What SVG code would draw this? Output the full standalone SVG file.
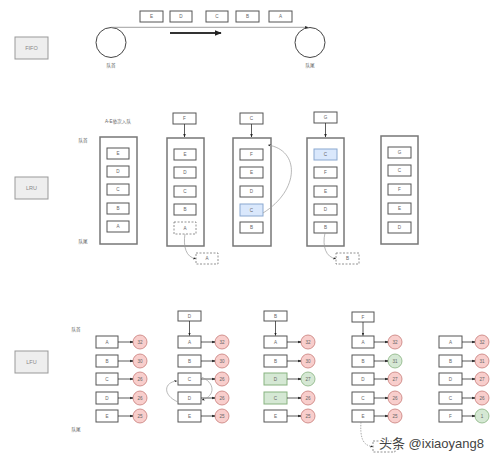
<svg xmlns="http://www.w3.org/2000/svg" width="499" height="458" viewBox="0 0 499 458">
<defs>
<marker id="ahs" viewBox="0 0 10 10" refX="9" refY="5" markerWidth="4" markerHeight="4" orient="auto"><path d="M0,1 L10,5 L0,9 Z" fill="#222"/></marker>
<style>
text{font-family:"Liberation Sans","Noto Sans CJK SC",sans-serif;font-size:4.6px;fill:#666;text-anchor:middle;dominant-baseline:central}
.lbl{fill:#eee;stroke:#999;stroke-width:1}
.lbl-t{font-size:5.5px;fill:#888}
.box{fill:#fff;stroke:#555;stroke-width:1}
.dash{fill:#fff;stroke:#777;stroke-width:0.8;stroke-dasharray:2,1.5}
.cont{fill:#fff;stroke:#777;stroke-width:1.5}
.blue{fill:#dae8fc;stroke:#8aa8d0;stroke-width:1}
.green{fill:#d5e8d4;stroke:#88b380;stroke-width:1}
.red{fill:#f8cecc;stroke:#c87c78;stroke-width:0.8}
.gc{fill:#d5e8d4;stroke:#88b380;stroke-width:0.8}
.ln{fill:none;stroke:#333;stroke-width:0.8}
.cv{fill:none;stroke:#999;stroke-width:0.7}
.cvd{fill:none;stroke:#888;stroke-width:0.7;stroke-dasharray:1.5,1.2}
.ring{fill:#fff;stroke:#444;stroke-width:1}
.wm{font-size:13px;fill:#444;text-anchor:start;stroke:#fff;stroke-width:2;paint-order:stroke}
</style>
</defs>
<rect width="499" height="458" fill="#fff"/>

<!-- FIFO -->
<g id="fifo-label"><rect class="lbl" x="15" y="37" width="33" height="22"/><text class="lbl-t" x="31.5" y="48">FIFO</text></g>
<g id="fifo-queue">
<rect class="box" x="140" y="11" width="23" height="11"/><text x="151.5" y="16.5">E</text>
<rect class="box" x="170" y="11" width="22" height="11"/><text x="181" y="16.5">D</text>
<rect class="box" x="206" y="11" width="22" height="11"/><text x="217" y="16.5">C</text>
<rect class="box" x="236" y="11" width="23" height="11"/><text x="247.5" y="16.5">B</text>
<rect class="box" x="269" y="11" width="23" height="11"/><text x="280.5" y="16.5">A</text>
</g>
<g id="fifo-head"><circle class="ring" cx="111" cy="42.5" r="15"/><text x="111" y="65">队首</text></g>
<g id="fifo-tail"><circle class="ring" cx="310" cy="42.5" r="15"/><text x="310" y="65">队尾</text></g>

<!-- LRU -->
<g id="lru-label"><rect class="lbl" x="15" y="177" width="33" height="22"/><text class="lbl-t" x="31.5" y="188">LRU</text></g>
<g id="lru-notes">
<text x="118" y="121">A-E依次入队</text>
<text x="83" y="140">队首</text>
<text x="83" y="241">队尾</text>
</g>
<g id="lru-1">
<rect class="cont" x="100" y="137" width="37" height="107"/>
<rect class="box" x="107" y="148" width="22" height="11"/><text x="118" y="153.5">E</text>
<rect class="box" x="107" y="166" width="22" height="11"/><text x="118" y="171.5">D</text>
<rect class="box" x="107" y="184" width="22" height="11"/><text x="118" y="189.5">C</text>
<rect class="box" x="107" y="203" width="22" height="11"/><text x="118" y="208.5">B</text>
<rect class="box" x="107" y="221" width="22" height="11"/><text x="118" y="226.5">A</text>
</g>
<g id="lru-2">
<rect class="box" x="173" y="113" width="23" height="11"/><text x="184.5" y="118.5">F</text>
<rect class="cont" x="167" y="138" width="37" height="108"/>
<rect class="box" x="174" y="149" width="22" height="11"/><text x="185" y="154.5">E</text>
<rect class="box" x="174" y="167" width="22" height="11"/><text x="185" y="172.5">D</text>
<rect class="box" x="174" y="186" width="22" height="11"/><text x="185" y="191.5">C</text>
<rect class="box" x="174" y="204" width="22" height="11"/><text x="185" y="209.5">B</text>
<rect class="dash" x="174" y="222" width="22" height="12"/><text x="185" y="228">A</text>
<rect class="dash" x="196" y="253" width="22" height="11"/><text x="207" y="258.5">A</text>
</g>
<g id="lru-3">
<rect class="box" x="240" y="113" width="23" height="11"/><text x="251.5" y="118.5">C</text>
<rect class="cont" x="233" y="138" width="38" height="108"/>
<rect class="box" x="240" y="149" width="23" height="11"/><text x="251.5" y="154.5">F</text>
<rect class="box" x="240" y="167" width="23" height="11"/><text x="251.5" y="172.5">E</text>
<rect class="box" x="240" y="186" width="23" height="11"/><text x="251.5" y="191.5">D</text>
<rect class="blue" x="240" y="204" width="23" height="12"/><text x="251.5" y="210">C</text>
<rect class="box" x="240" y="222" width="23" height="11"/><text x="251.5" y="227.5">B</text>
</g>
<g id="lru-4">
<rect class="box" x="314" y="112" width="23" height="11"/><text x="325.5" y="117.5">G</text>
<rect class="cont" x="307" y="138" width="37" height="108"/>
<rect class="blue" x="314" y="149" width="23" height="11"/><text x="325.5" y="154.5">C</text>
<rect class="box" x="314" y="167" width="23" height="11"/><text x="325.5" y="172.5">F</text>
<rect class="box" x="314" y="186" width="23" height="11"/><text x="325.5" y="191.5">E</text>
<rect class="box" x="314" y="204" width="23" height="11"/><text x="325.5" y="209.5">D</text>
<rect class="box" x="314" y="222" width="23" height="11"/><text x="325.5" y="227.5">B</text>
<rect class="dash" x="336" y="253" width="23" height="11"/><text x="347.5" y="258.5">B</text>
</g>
<g id="lru-5">
<rect class="cont" x="381" y="136" width="37" height="108"/>
<rect class="box" x="388" y="147" width="23" height="11"/><text x="399.5" y="152.5">G</text>
<rect class="box" x="388" y="165" width="23" height="11"/><text x="399.5" y="170.5">C</text>
<rect class="box" x="388" y="184" width="23" height="11"/><text x="399.5" y="189.5">F</text>
<rect class="box" x="388" y="203" width="23" height="11"/><text x="399.5" y="208.5">E</text>
<rect class="box" x="388" y="222" width="23" height="11"/><text x="399.5" y="227.5">D</text>
</g>

<!-- LFU -->
<g id="lfu-label"><rect class="lbl" x="15" y="351" width="33" height="22"/><text class="lbl-t" x="31.5" y="362">LFU</text></g>
<g id="lfu-notes">
<text x="76" y="329">队首</text>
<text x="76" y="429">队尾</text>
</g>
<g id="lfu-1">
<rect class="box" x="96" y="336" width="22" height="12"/><text x="107" y="342">A</text>
<rect class="box" x="96" y="355" width="22" height="12"/><text x="107" y="361">B</text>
<rect class="box" x="96" y="373" width="22" height="12"/><text x="107" y="379">C</text>
<rect class="box" x="96" y="392" width="22" height="12"/><text x="107" y="398">D</text>
<rect class="box" x="96" y="410" width="22" height="12"/><text x="107" y="416">E</text>
<circle class="red" cx="140" cy="342" r="7"/><text x="140" y="342">32</text>
<circle class="red" cx="140" cy="361" r="7"/><text x="140" y="361">30</text>
<circle class="red" cx="140" cy="379" r="7"/><text x="140" y="379">26</text>
<circle class="red" cx="140" cy="398" r="7"/><text x="140" y="398">26</text>
<circle class="red" cx="140" cy="416" r="7"/><text x="140" y="416">25</text>
</g>
<g id="lfu-2">
<rect class="box" x="178" y="311" width="23" height="10"/><text x="189.5" y="316">D</text>
<rect class="box" x="178" y="336" width="23" height="12"/><text x="189.5" y="342">A</text>
<rect class="box" x="178" y="355" width="23" height="12"/><text x="189.5" y="361">B</text>
<rect class="box" x="178" y="373" width="23" height="12"/><text x="189.5" y="379">C</text>
<rect class="box" x="178" y="392" width="23" height="12"/><text x="189.5" y="398">D</text>
<rect class="box" x="178" y="410" width="23" height="12"/><text x="189.5" y="416">E</text>
<circle class="red" cx="222" cy="342" r="7"/><text x="222" y="342">32</text>
<circle class="red" cx="222" cy="361" r="7"/><text x="222" y="361">30</text>
<circle class="red" cx="222" cy="379" r="7"/><text x="222" y="379">26</text>
<circle class="red" cx="222" cy="398" r="7"/><text x="222" y="398">26</text>
<circle class="red" cx="222" cy="416" r="7"/><text x="222" y="416">25</text>
</g>
<g id="lfu-3">
<rect class="box" x="264" y="311" width="23" height="10"/><text x="275.5" y="316">B</text>
<rect class="box" x="264" y="336" width="23" height="12"/><text x="275.5" y="342">A</text>
<rect class="box" x="264" y="355" width="23" height="12"/><text x="275.5" y="361">B</text>
<rect class="green" x="264" y="373" width="23" height="12"/><text x="275.5" y="379">D</text>
<rect class="green" x="264" y="392" width="23" height="12"/><text x="275.5" y="398">C</text>
<rect class="box" x="264" y="410" width="23" height="12"/><text x="275.5" y="416">E</text>
<circle class="red" cx="308" cy="342" r="7"/><text x="308" y="342">32</text>
<circle class="red" cx="308" cy="361" r="7"/><text x="308" y="361">30</text>
<circle class="gc" cx="308" cy="379" r="7"/><text x="308" y="379">27</text>
<circle class="red" cx="308" cy="398" r="7"/><text x="308" y="398">26</text>
<circle class="red" cx="308" cy="416" r="7"/><text x="308" y="416">25</text>
</g>
<g id="lfu-4">
<rect class="box" x="352" y="312" width="22" height="10"/><text x="363" y="317">F</text>
<rect class="box" x="352" y="336" width="22" height="12"/><text x="363" y="342">A</text>
<rect class="box" x="352" y="355" width="22" height="12"/><text x="363" y="361">B</text>
<rect class="box" x="352" y="373" width="22" height="12"/><text x="363" y="379">D</text>
<rect class="box" x="352" y="392" width="22" height="12"/><text x="363" y="398">C</text>
<rect class="box" x="352" y="410" width="22" height="12"/><text x="363" y="416">E</text>
<circle class="red" cx="395" cy="342" r="7"/><text x="395" y="342">32</text>
<circle class="gc" cx="395" cy="361" r="7"/><text x="395" y="361">31</text>
<circle class="red" cx="395" cy="379" r="7"/><text x="395" y="379">27</text>
<circle class="red" cx="395" cy="398" r="7"/><text x="395" y="398">26</text>
<circle class="red" cx="395" cy="416" r="7"/><text x="395" y="416">25</text>
<rect class="dash" x="373" y="441" width="22" height="11"/>
</g>
<g id="lfu-5">
<rect class="box" x="439" y="336" width="23" height="12"/><text x="450.5" y="342">A</text>
<rect class="box" x="439" y="355" width="23" height="12"/><text x="450.5" y="361">B</text>
<rect class="box" x="439" y="373" width="23" height="12"/><text x="450.5" y="379">D</text>
<rect class="box" x="439" y="392" width="23" height="12"/><text x="450.5" y="398">C</text>
<rect class="box" x="439" y="410" width="23" height="12"/><text x="450.5" y="416">F</text>
<circle class="red" cx="482" cy="342" r="7"/><text x="482" y="342">32</text>
<circle class="red" cx="482" cy="361" r="7"/><text x="482" y="361">31</text>
<circle class="red" cx="482" cy="379" r="7"/><text x="482" y="379">27</text>
<circle class="red" cx="482" cy="398" r="7"/><text x="482" y="398">26</text>
<circle class="gc" cx="482" cy="416" r="7"/><text x="482" y="416">1</text>
</g>

<g id="connectors">
<path d="M111,27.3 L308,27.3" fill="none" stroke="#888" stroke-width="0.8" marker-end="url(#ahs)"/>
<path d="M170,33 L221,33" fill="none" stroke="#333" stroke-width="1.8" marker-end="url(#ahs)"/>
<path class="ln" d="M184.5,124 L184.5,137" marker-end="url(#ahs)"/>
<path class="ln" d="M251.5,124 L251.5,137" marker-end="url(#ahs)"/>
<path class="ln" d="M325.5,123 L325.5,137" marker-end="url(#ahs)"/>
<path class="cv" d="M185,234 C183,246 186,258 196,258.5" marker-end="url(#ahs)"/>
<path class="cv" d="M263,213 C300,190 300,150 268,145" marker-end="url(#ahs)"/>
<path class="cv" d="M325,233 C322,246 326,258 336,258.5" marker-end="url(#ahs)"/>
<path class="ln" d="M118,342 L133,342" marker-end="url(#ahs)"/>
<path class="ln" d="M118,361 L133,361" marker-end="url(#ahs)"/>
<path class="ln" d="M118,379 L133,379" marker-end="url(#ahs)"/>
<path class="ln" d="M118,398 L133,398" marker-end="url(#ahs)"/>
<path class="ln" d="M118,416 L133,416" marker-end="url(#ahs)"/>
<path class="ln" d="M189.5,321 L189.5,335.5" marker-end="url(#ahs)"/>
<path class="ln" d="M201,342 L215,342" marker-end="url(#ahs)"/>
<path class="ln" d="M201,361 L215,361" marker-end="url(#ahs)"/>
<path class="ln" d="M201,379 L215,379" marker-end="url(#ahs)"/>
<path class="ln" d="M201,398 L215,398" marker-end="url(#ahs)"/>
<path class="ln" d="M201,416 L215,416" marker-end="url(#ahs)"/>
<path class="cv" d="M201,377 C215,382 216,396 202,400" marker-end="url(#ahs)"/>
<path class="cv" d="M178,402 C162,395 164,382 177,381" marker-end="url(#ahs)"/>
<path class="ln" d="M275.5,321 L275.5,335.5" marker-end="url(#ahs)"/>
<path class="ln" d="M287,342 L301,342" marker-end="url(#ahs)"/>
<path class="ln" d="M287,361 L301,361" marker-end="url(#ahs)"/>
<path class="ln" d="M287,379 L301,379" marker-end="url(#ahs)"/>
<path class="ln" d="M287,398 L301,398" marker-end="url(#ahs)"/>
<path class="ln" d="M287,416 L301,416" marker-end="url(#ahs)"/>
<path class="ln" d="M363,322 L363,335.5" marker-end="url(#ahs)"/>
<path class="ln" d="M374,342 L388,342" marker-end="url(#ahs)"/>
<path class="ln" d="M374,361 L388,361" marker-end="url(#ahs)"/>
<path class="ln" d="M374,379 L388,379" marker-end="url(#ahs)"/>
<path class="ln" d="M374,398 L388,398" marker-end="url(#ahs)"/>
<path class="ln" d="M374,416 L388,416" marker-end="url(#ahs)"/>
<path class="cvd" d="M361,422 C360,436 362,446 373,446.5" marker-end="url(#ahs)"/>
<path class="ln" d="M462,342 L475,342" marker-end="url(#ahs)"/>
<path class="ln" d="M462,361 L475,361" marker-end="url(#ahs)"/>
<path class="ln" d="M462,379 L475,379" marker-end="url(#ahs)"/>
<path class="ln" d="M462,398 L475,398" marker-end="url(#ahs)"/>
<path class="ln" d="M462,416 L475,416" marker-end="url(#ahs)"/>
</g>
<text class="wm" x="379" y="443">头条 @ixiaoyang8</text>
</svg>
